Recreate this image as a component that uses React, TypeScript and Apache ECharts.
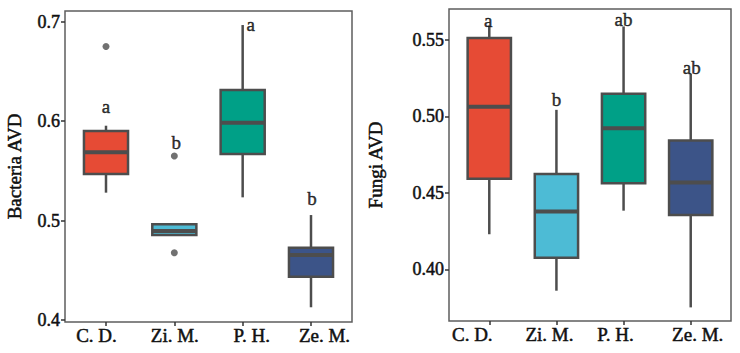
import React, { useEffect, useRef } from "react";
import * as echarts from "echarts";

// Groups shown on both panels
const categories = ["C. D.", "Zi. M.", "P. H.", "Ze. M."];
const boxColors = ["#E64B35", "#4DBBD5", "#00A087", "#3C5488"];

// Box statistics per group: [lower whisker, Q1, median, Q3, upper whisker]
const bacteriaStats = [
  [0.528, 0.5467, 0.5685, 0.59, 0.5953],
  [0.4855, 0.4855, 0.4895, 0.4963, 0.4975],
  [0.5233, 0.5668, 0.5983, 0.6312, 0.6965],
  [0.4128, 0.4435, 0.4653, 0.4727, 0.5055],
];
// Outliers: [group index, value]
const bacteriaOutliers = [
  [0, 0.675],
  [1, 0.5648],
  [1, 0.4676],
];
const bacteriaLetters = ["a", "b", "a", "b"];
const bacteriaLetterY = [0.6145, 0.578, 0.6972, 0.5219];
const bacteriaTicks = [0.4, 0.5, 0.6, 0.7];

const fungiStats = [
  [0.4229, 0.4591, 0.5062, 0.5511, 0.559],
  [0.386, 0.4076, 0.4377, 0.4623, 0.5042],
  [0.4383, 0.4563, 0.4922, 0.5147, 0.5587],
  [0.3751, 0.4355, 0.4567, 0.4841, 0.5278],
];
const fungiOutliers: number[][] = [];
const fungiLetters = ["a", "b", "ab", "ab"];
const fungiLetterY = [0.5626, 0.5109, 0.5635, 0.5321];
const fungiTicks = [0.4, 0.45, 0.5, 0.55];

const FONT = "'Liberation Serif', 'Times New Roman', serif";
const STROKE = "#4d4d4d";
// slight outline to give the serif text a heavier stroke
const TEXT_WEIGHT = { textBorderColor: "#111", textBorderWidth: 0.5 };

// horizontal nudges (px) of the group names under each panel
const bacteriaNameShift = [-9.5, 0.5, 9, 13.5];
const fungiNameShift = [-17, -7, -8, 7];
// nudges (px) of the significance letters
const bacteriaLetterShift = [[0, 0], [2, 0], [8, 0], [1, 0]];
const fungiLetterShift = [[-1, 0], [0, 0], [0, 0], [1, 0]];

function boxRenderItem(params: any, api: any) {
  const i = api.value(0);
  const pMin = api.coord([i, api.value(1)]);
  const pQ1 = api.coord([i, api.value(2)]);
  const pMed = api.coord([i, api.value(3)]);
  const pQ3 = api.coord([i, api.value(4)]);
  const pMax = api.coord([i, api.value(5)]);
  const half = (api.size([1, 0])[0] * 0.645) / 2;
  const x = pQ1[0];
  return {
    type: "group",
    children: [
      {
        type: "line",
        shape: { x1: x, y1: pQ3[1], x2: x, y2: pMax[1] },
        style: { stroke: STROKE, lineWidth: 2.5 },
      },
      {
        type: "line",
        shape: { x1: x, y1: pQ1[1], x2: x, y2: pMin[1] },
        style: { stroke: STROKE, lineWidth: 2.5 },
      },
      {
        type: "rect",
        shape: { x: x - half, y: pQ3[1], width: half * 2, height: pQ1[1] - pQ3[1] },
        style: { fill: boxColors[i], stroke: STROKE, lineWidth: 2.5 },
      },
      {
        type: "line",
        shape: { x1: x - half, y1: pMed[1], x2: x + half, y2: pMed[1] },
        style: { stroke: STROKE, lineWidth: 4 },
      },
    ],
  };
}

function panelSeries(
  idx: number,
  stats: number[][],
  outliers: number[][],
  letters: string[],
  letterY: number[],
  letterOffsets: number[][]
) {
  return [
    {
      type: "custom",
      xAxisIndex: idx,
      yAxisIndex: idx,
      renderItem: boxRenderItem,
      encode: { x: 0, y: [1, 2, 3, 4, 5] },
      data: stats.map((s, i) => [i, ...s]),
      z: 2,
    },
    {
      type: "scatter",
      xAxisIndex: idx,
      yAxisIndex: idx,
      symbolSize: 7,
      itemStyle: { color: STROKE },
      data: outliers,
      z: 3,
    },
    {
      type: "scatter",
      xAxisIndex: idx,
      yAxisIndex: idx,
      symbolSize: 1,
      itemStyle: { color: "transparent" },
      label: {
        show: true,
        position: "inside",
        formatter: "{b}",
        fontFamily: FONT,
        fontSize: 19,
        color: "#000",
        ...TEXT_WEIGHT,
      },
      data: letters.map((l, i) => ({
        name: l,
        value: [i, letterY[i]],
        label: { offset: letterOffsets[i] },
      })),
      z: 4,
    },
  ];
}

function xAxisFor(idx: number, shifts: number[]) {
  const rich: Record<string, any> = {};
  shifts.forEach((s, i) => {
    rich["g" + i] = {
      fontFamily: FONT,
      fontSize: 19,
      color: "#111",
      ...TEXT_WEIGHT,
      padding: s >= 0 ? [0, 0, 0, 2 * s] : [0, -2 * s, 0, 0],
    };
  });
  return {
    type: "value",
    gridIndex: idx,
    min: -0.6,
    max: 3.6,
    axisLine: { show: false, onZero: false },
    splitLine: { show: false },
    axisTick: {
      show: true,
      length: 4,
      customValues: [0, 1, 2, 3],
      lineStyle: { color: "#333", width: 1.5 },
    },
    axisLabel: {
      customValues: [0, 1, 2, 3],
      formatter: (v: number) => {
        const i = Math.round(v);
        return categories[i] ? `{g${i}|${categories[i]}}` : "";
      },
      fontFamily: FONT,
      fontSize: 19,
      color: "#111",
      margin: 4,
      rich,
    },
  };
}

function yAxisFor(
  idx: number,
  name: string,
  min: number,
  max: number,
  ticks: number[],
  digits: number,
  nameGap: number
) {
  return {
    type: "value",
    gridIndex: idx,
    min,
    max,
    name,
    nameLocation: "middle",
    nameGap,
    nameTextStyle: { fontFamily: FONT, fontSize: 19, color: "#111", ...TEXT_WEIGHT },
    axisLine: { show: false, onZero: false },
    splitLine: { show: false },
    axisTick: {
      show: true,
      length: 4,
      customValues: ticks,
      lineStyle: { color: "#333", width: 1.5 },
    },
    axisLabel: {
      customValues: ticks,
      formatter: (v: number) => v.toFixed(digits),
      fontFamily: FONT,
      fontSize: 18,
      color: "#111",
      margin: 5,
      ...TEXT_WEIGHT,
    },
  };
}

export default function App() {
  const ref = useRef<HTMLDivElement>(null);

  useEffect(() => {
    if (!ref.current) return;
    const chart = echarts.init(ref.current, null, { renderer: "svg" });
    const gridStyle = { show: true, borderColor: "#5e5e5e", borderWidth: 1.5, backgroundColor: "#fff" };
    chart.setOption({
      animation: false,
      backgroundColor: "#fff",
      grid: [
        { left: 65, right: 388, top: 11, bottom: 31, ...gridStyle },
        { left: 449, right: 9, top: 9, bottom: 32, ...gridStyle },
      ],
      xAxis: [xAxisFor(0, bacteriaNameShift), xAxisFor(1, fungiNameShift)],
      yAxis: [
        yAxisFor(0, "Bacteria AVD", 0.398, 0.7106, bacteriaTicks, 1, 41),
        yAxisFor(1, "Fungi AVD", 0.3662, 0.5701, fungiTicks, 2, 64),
      ],
      series: [
        ...panelSeries(0, bacteriaStats, bacteriaOutliers, bacteriaLetters, bacteriaLetterY, bacteriaLetterShift),
        ...panelSeries(1, fungiStats, fungiOutliers, fungiLetters, fungiLetterY, fungiLetterShift),
      ],
    });
    return () => chart.dispose();
  }, []);

  return <div ref={ref} style={{ width: 740, height: 353, position: "absolute", left: 0, top: 0 }} />;
}
